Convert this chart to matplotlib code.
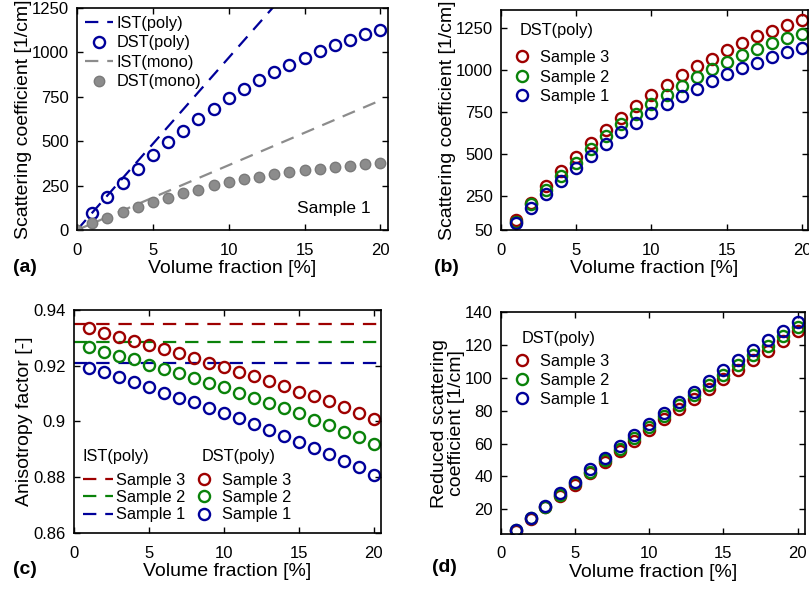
import matplotlib
matplotlib.use("Agg")
import matplotlib.pyplot as plt
from matplotlib.lines import Line2D

plt.rcParams['font.family'] = ['Liberation Sans', 'DejaVu Sans']

# ---------------- data ----------------
vf = list(range(1, 21))                     # volume fraction [%]
vf0 = [0] + vf

# panel (a)
ist_line_x = [0, 20]
ist_poly_a = [0, 1940]
ist_mono_a = [0, 730]
dst_poly_s1 = [97, 183, 266, 343, 421, 496, 558, 624, 684, 743,
               792, 843, 890, 931, 970, 1006, 1039, 1071, 1101, 1127]
dst_mono_s1 = [0, 41, 66, 103, 127, 159, 182, 206, 228, 251, 268,
               285, 300, 315, 328, 337, 346, 356, 363, 369, 375]

# panel (b)
mus_s3 = [107, 212, 309, 400, 484, 567, 646, 717, 785, 850,
          913, 969, 1022, 1068, 1117, 1161, 1200, 1232, 1270, 1299]
mus_s2 = [100, 202, 286, 369, 450, 529, 606, 678, 741, 800,
          854, 905, 959, 1004, 1048, 1091, 1127, 1161, 1192, 1216]
mus_s1 = [94, 183, 266, 339, 418, 490, 563, 630, 688, 745,
          796, 844, 890, 935, 975, 1012, 1044, 1078, 1107, 1131]

# panel (c)
g_ist = {'Sample 3': 0.935, 'Sample 2': 0.9285, 'Sample 1': 0.921}
g_s3 = [0.9334, 0.9316, 0.9302, 0.9289, 0.9275, 0.9259, 0.9245, 0.9229, 0.9211, 0.9197,
        0.9179, 0.9164, 0.9146, 0.9128, 0.9107, 0.9090, 0.9072, 0.9051, 0.9030, 0.9008]
g_s2 = [0.9266, 0.9251, 0.9236, 0.9223, 0.9203, 0.9189, 0.9173, 0.9155, 0.9137, 0.9122,
        0.9101, 0.9084, 0.9066, 0.9048, 0.9030, 0.9006, 0.8986, 0.8964, 0.8943, 0.8920]
g_s1 = [0.9191, 0.9177, 0.9158, 0.9140, 0.9125, 0.9104, 0.9086, 0.9069, 0.9050, 0.9030,
        0.9012, 0.8990, 0.8970, 0.8949, 0.8928, 0.8904, 0.8883, 0.8860, 0.8836, 0.8809]

# panel (d)
musr_s3 = [7.1, 14.3, 21.2, 28.2, 35.0, 41.9, 48.5, 55.2, 61.7, 68.2,
           74.8, 80.9, 87.0, 93.0, 99.0, 105.0, 110.6, 116.5, 122.2, 128.3]
musr_s2 = [7.3, 14.6, 21.7, 28.9, 35.9, 43.0, 49.8, 56.8, 63.5, 70.2,
           76.8, 83.2, 89.3, 95.5, 101.7, 107.8, 113.7, 119.6, 125.4, 131.0]
musr_s1 = [7.5, 15.0, 22.2, 29.7, 36.8, 44.3, 51.0, 58.5, 65.1, 71.8,
           78.7, 85.4, 91.4, 98.1, 104.6, 110.7, 116.7, 122.8, 128.3, 134.0]

xticks = [0, 5, 10, 15, 20]
yticks_a = [0, 250, 500, 750, 1000, 1250]
yticks_b = [50, 250, 500, 750, 1000, 1250]
yticks_c = [0.86, 0.88, 0.9, 0.92, 0.94]
yticklabels_c = ['0.86', '0.88', '0.9', '0.92', '0.94']
yticks_d = [20, 40, 60, 80, 100, 120, 140]

BLUE = '#00009a'
RED = '#9e0000'
GREEN = '#0a820a'
GRAY = '#8c8c8c'

TICK_FS = 12
LABEL_FS = 14
LEG_FS = 11.8

fig = plt.figure(figsize=(8.09, 5.90), dpi=100)
W, H = 809.0, 590.0


def rect(l, t, r, b):
    return [l / W, 1 - b / H, (r - l) / W, (b - t) / H]


def fpos(x, y):
    return (x / W, 1 - y / H)


def style(ax):
    ax.tick_params(direction='in', top=True, right=True, length=4.5, width=1.0,
                   labelsize=TICK_FS, pad=6)
    ax.tick_params(axis='x', pad=9)
    for s in ax.spines.values():
        s.set_linewidth(1.2)
    ax.set_xticks(xticks)
    ax.set_xlabel('Volume fraction [%]', fontsize=LABEL_FS, labelpad=2)


def legend_at(ax, handles, x, y, hl, htp, ls):
    return ax.legend(handles=handles, loc='upper left', bbox_to_anchor=fpos(x, y),
                     bbox_transform=fig.transFigure, frameon=False, fontsize=LEG_FS,
                     handlelength=hl, handletextpad=htp, labelspacing=ls,
                     borderaxespad=0, borderpad=0)


ms = 8
mew = 1.7
DASH = (6, 4)

# ---------------- (a) ----------------
ax = fig.add_axes(rect(77, 8, 388, 230))
style(ax)
l1, = ax.plot(ist_line_x, ist_poly_a, '--', color=BLUE, lw=1.6, dashes=DASH, label='IST(poly)')
l2, = ax.plot(vf, dst_poly_s1, 'o', mfc='none', mec=BLUE, ms=ms, mew=mew, label='DST(poly)')
l3, = ax.plot(ist_line_x, ist_mono_a, '--', color=GRAY, lw=1.6, dashes=DASH, label='IST(mono)')
l4, = ax.plot(vf0, dst_mono_s1, 'o', mfc=GRAY, mec='#7a7a7a', ms=7.5, mew=1.0, label='DST(mono)')
ax.set_xlim(0, 20.5)
ax.set_ylim(0, 1250)
ax.set_yticks(yticks_a)
ax.set_ylabel('Scattering coefficient [1/cm]', fontsize=LABEL_FS, labelpad=0)
legend_at(ax, [l1, l2, l3, l4], 85, 16, 1.7, 0.25, 0.27)
fig.text(*fpos(371, 208), 'Sample 1', fontsize=12.5, ha='right', va='center')
fig.text(*fpos(13, 267), '(a)', fontsize=14, fontweight='bold', va='center', ha='left')

# ---------------- (b) ----------------
ax = fig.add_axes(rect(501, 10, 808, 230))
style(ax)
b3, = ax.plot(vf, mus_s3, 'o', mfc='none', mec=RED, ms=ms, mew=mew, label='Sample 3')
b2, = ax.plot(vf, mus_s2, 'o', mfc='none', mec=GREEN, ms=ms, mew=mew, label='Sample 2')
b1, = ax.plot(vf, mus_s1, 'o', mfc='none', mec=BLUE, ms=ms, mew=mew, label='Sample 1')
ax.set_xlim(0, 20.4)
ax.set_ylim(50, 1357)
ax.set_yticks(yticks_b)
ax.set_ylabel('Scattering coefficient [1/cm]', fontsize=LABEL_FS, labelpad=0)
legend_at(ax, [b3, b2, b1], 515, 50, 0.8, 0.7, 0.28)
fig.text(*fpos(520, 31), 'DST(poly)', fontsize=LEG_FS, va='center', ha='left')
fig.text(*fpos(434, 267), '(b)', fontsize=14, fontweight='bold', va='center', ha='left')

# ---------------- (c) ----------------
ax = fig.add_axes(rect(74, 310, 381, 533))
style(ax)
ist_handles = []
for name, col in [('Sample 3', RED), ('Sample 2', GREEN), ('Sample 1', BLUE)]:
    ax.axhline(g_ist[name], color=col, ls='--', lw=1.6, dashes=DASH)
    ist_handles.append(Line2D([], [], color=col, ls='--', lw=1.6, dashes=DASH, label=name))
h3, = ax.plot(vf, g_s3, 'o', mfc='none', mec=RED, ms=ms, mew=mew, label='Sample 3')
h2, = ax.plot(vf, g_s2, 'o', mfc='none', mec=GREEN, ms=ms, mew=mew, label='Sample 2')
h1, = ax.plot(vf, g_s1, 'o', mfc='none', mec=BLUE, ms=ms, mew=mew, label='Sample 1')
ax.set_xlim(0, 20.5)
ax.set_ylim(0.86, 0.94)
ax.set_yticks(yticks_c)
ax.set_yticklabels(yticklabels_c)
ax.set_ylabel('Anisotropy factor [-]', fontsize=LABEL_FS, labelpad=0)
leg1 = legend_at(ax, ist_handles, 83, 473, 1.8, 0.24, 0.13)
ax.add_artist(leg1)
legend_at(ax, [h3, h2, h1], 197, 473, 0.8, 0.7, 0.13)
fig.text(*fpos(83, 456), 'IST(poly)', fontsize=LEG_FS, va='center', ha='left')
fig.text(*fpos(202, 456), 'DST(poly)', fontsize=LEG_FS, va='center', ha='left')
fig.text(*fpos(13, 569), '(c)', fontsize=14, fontweight='bold', va='center', ha='left')

# ---------------- (d) ----------------
ax = fig.add_axes(rect(501, 312, 805, 534))
style(ax)
d3, = ax.plot(vf, musr_s3, 'o', mfc='none', mec=RED, ms=ms, mew=mew, label='Sample 3')
d2, = ax.plot(vf, musr_s2, 'o', mfc='none', mec=GREEN, ms=ms, mew=mew, label='Sample 2')
d1, = ax.plot(vf, musr_s1, 'o', mfc='none', mec=BLUE, ms=ms, mew=mew, label='Sample 1')
ax.set_xlim(0, 20.5)
ax.set_ylim(5, 140)
ax.set_yticks(yticks_d)
ax.set_ylabel('Reduced scattering\ncoefficient [1/cm]', fontsize=LABEL_FS, labelpad=0,
              linespacing=1.0)
legend_at(ax, [d3, d2, d1], 515, 354, 0.8, 0.7, 0.25)
fig.text(*fpos(522, 338), 'DST(poly)', fontsize=LEG_FS, va='center', ha='left')
fig.text(*fpos(432, 568), '(d)', fontsize=14, fontweight='bold', va='center', ha='left')

fig.savefig('out.png', dpi=100)
